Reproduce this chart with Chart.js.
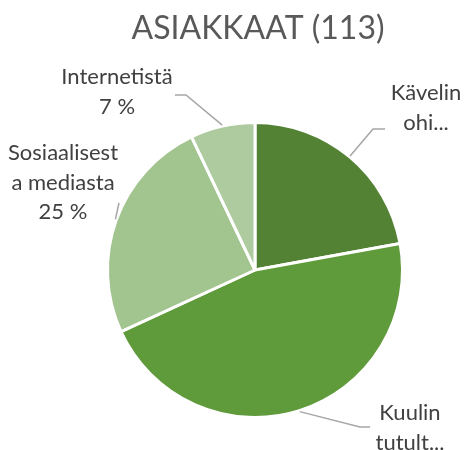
<!DOCTYPE html>
<html>
<head>
<meta charset="utf-8">
<script src="https://cdn.jsdelivr.net/npm/chart.js@4/dist/chart.umd.min.js"></script>
<style>
  html, body { margin: 0; padding: 0; background: #fff; }
  #wrap { width: 467px; height: 450px; position: relative; }
</style>
</head>
<body>
<div id="wrap"><canvas id="pie"></canvas></div>
<script>
  const title = "ASIAKKAAT (113)";
  const categories = ["Kävelin ohi…", "Kuulin tutult…", "Sosiaalisesta mediasta", "Internetistä"];
  const counts = [25, 52, 28, 8];
  const colors = ["#548235", "#5f9a3b", "#a2c48f", "#aecb9f"];
  // label text as Excel shows it (wrapped/truncated), percent shown only for some
  const labelLines = [
    ["Kävelin", "ohi..."],
    ["Kuulin", "tutult..."],
    ["Sosiaalisest", "a mediasta"],
    ["Internetistä"]
  ];
  const showPercent = [false, false, true, true];

  // where the label boxes sit and where their leader lines bend
  const labelLayout = [
    { x: 426, y: 93,  elbow: [373, 129], end: [385, 129] },
    { x: 410, y: 413, elbow: [360, 427], end: [370, 427] },
    { x: 63,  y: 153, elbow: [119, 203], end: null },
    { x: 117, y: 77,  elbow: [186, 95],  end: [175, 95] }
  ];

  const FONT = "Lato, 'Open Sans', sans-serif";
  const total = counts.reduce((a, b) => a + b, 0);

  const labelsPlugin = {
    id: "excelLabels",
    afterDraw(chart) {
      const ctx = chart.ctx;
      ctx.save();
      // title
      ctx.fillStyle = "#595959";
      ctx.font = "32px " + FONT;
      ctx.textAlign = "center";
      ctx.textBaseline = "middle";
      ctx.fillText(title, 258, 29);

      const arcs = chart.getDatasetMeta(0).data;
      arcs.forEach((arc, i) => {
        const p = arc.getProps(["x", "y", "startAngle", "endAngle", "outerRadius"], true);
        const mid = (p.startAngle + p.endAngle) / 2;
        const r = p.outerRadius + 1;
        const sx = p.x + Math.cos(mid) * r;
        const sy = p.y + Math.sin(mid) * r;
        const L = labelLayout[i];

        ctx.strokeStyle = "#a6a6a6";
        ctx.lineWidth = 1.5;
        ctx.beginPath();
        ctx.moveTo(sx, sy);
        ctx.lineTo(L.elbow[0], L.elbow[1]);
        if (L.end) ctx.lineTo(L.end[0], L.end[1]);
        ctx.stroke();

        const lines = labelLines[i].slice();
        if (showPercent[i]) lines.push(Math.round(counts[i] / total * 100) + " %");
        ctx.fillStyle = "#404040";
        ctx.font = "22px " + FONT;
        lines.forEach((t, k) => ctx.fillText(t, L.x, L.y + k * 29.5));
      });
      ctx.restore();
    }
  };

  new Chart(document.getElementById("pie").getContext("2d"), {
    type: "pie",
    data: {
      labels: categories,
      datasets: [{
        data: counts,
        backgroundColor: colors,
        borderColor: "#ffffff",
        borderWidth: 3
      }]
    },
    options: {
      responsive: true,
      maintainAspectRatio: false,
      animation: false,
      layout: { padding: { left: 106, right: 63, top: 121, bottom: 31 } },
      plugins: {
        legend: { display: false },
        title: { display: false },
        tooltip: { enabled: false }
      }
    },
    plugins: [labelsPlugin]
  });
</script>
</body>
</html>
